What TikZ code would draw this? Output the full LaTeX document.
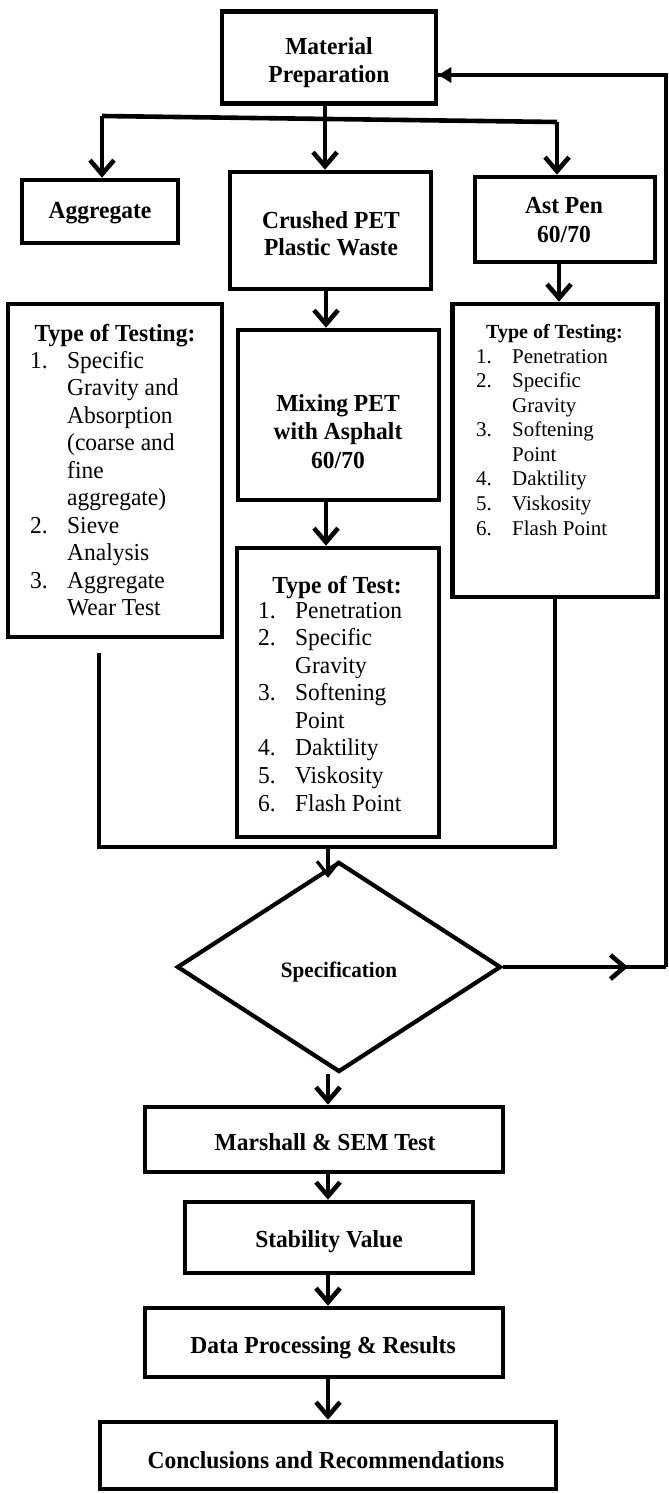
\documentclass[tikz,border=0pt]{standalone}
\usepackage{fontspec}
\setmainfont{Liberation Serif}
\newfontfamily\hdfont{Liberation Serif}[FakeStretch=0.96]
\newfontfamily\lifont{Liberation Serif}[FakeStretch=0.965]
\usetikzlibrary{arrows.meta,shapes.geometric}
\tikzset{
  box/.style={draw, line width=4.6pt, rectangle, inner sep=0pt},
  hd/.style={font=\hdfont\bfseries\fontsize{24.5}{28}\selectfont, inner sep=0pt, anchor=base},
  hds/.style={font=\bfseries\fontsize{20}{25}\selectfont, inner sep=0pt, anchor=base},
  li/.style={font=\lifont\fontsize{24.3}{28}\selectfont, inner sep=0pt, anchor=base west},
  lis/.style={font=\fontsize{21}{25}\selectfont, inner sep=0pt, anchor=base west},
  conn/.style={line width=4.6pt},
  barb/.style={line width=4.6pt, -{Straight Barb[length=14pt,width=24pt]}},
  thinbarb/.style={line width=3.2pt, -{Straight Barb[length=14pt,width=22pt]}},
  fb/.style={line width=3.6pt},
  fbarrow/.style={line width=3.6pt, -{Triangle[length=13pt,width=15pt]}}
}
\begin{document}
\begin{tikzpicture}[x=1pt,y=-1pt]
\fill[white] (0,0) rectangle (669,1494);
\useasboundingbox (0,0) rectangle (669,1494);

% ---------- boxes ----------
\node[box, minimum width=214pt, minimum height=92pt] (mat) at (329,57.5) {};
\node[box, minimum width=156pt, minimum height=63pt] (agg) at (100,211.5) {};
\node[box, minimum width=201pt, minimum height=117pt] (pet) at (330.5,230.5) {};
\node[box, minimum width=180pt, minimum height=85pt] (ast) at (565,219.5) {};
\node[box, minimum width=214pt, minimum height=333pt] (ltest) at (115,470.5) {};
\node[box, minimum width=201pt, minimum height=170pt] (mix) at (338.5,415) {};
\node[box, minimum width=202pt, minimum height=289pt] (mtest) at (338,692.5) {};
\node[box, minimum width=205pt, minimum height=293pt] (rtest) at (555,450.5) {};
\node[draw, line width=4.2pt, diamond, inner sep=0pt, minimum width=324pt, minimum height=210pt] (spec) at (339,967) {};
\node[box, minimum width=358pt, minimum height=65pt] (marsh) at (324,1139.5) {};
\node[box, minimum width=288pt, minimum height=71pt] (stab) at (329,1237.5) {};
\node[box, minimum width=358pt, minimum height=69pt] (data) at (324,1342.5) {};
\node[box, minimum width=456pt, minimum height=67pt] (conc) at (328,1455.5) {};

% ---------- box texts ----------
\node[hd] (matA) at (329,54.5) {Material};
\node[hd] (matB) at (329,82) {Preparation};
\node[hd] (aggA) at (100,218) {Aggregate};
\node[hd] (petA) at (331,228) {Crushed PET};
\node[hd] (petB) at (331,255) {Plastic Waste};
\node[hd] (astA) at (564,213) {Ast Pen};
\node[hd] (astB) at (564,242) {60/70};
\node[hd] (mixA) at (338,411) {Mixing PET};
\node[hd] (mixB) at (338,439) {with Asphalt};
\node[hd] (mixC) at (338,468) {60/70};
\node[font=\hdfont\bfseries\fontsize{22}{25}\selectfont, inner sep=0pt, anchor=base] (specT) at (339,977) {Specification};
\node[hd] (marshT) at (325,1150) {Marshall \& SEM Test};
\node[hd] (stabT) at (329,1247) {Stability Value};
\node[hd] (dataT) at (323,1353) {Data Processing \& Results};
\node[hd] (concT) at (326,1468) {Conclusions and Recommendations};

% left list
\node[hd] (lt0) at (115,341) {Type of Testing:};
\node[li] (lt1n) at (30,368) {1.};
\node[li] (lt1) at (67,368) {Specific};
\node[li] (lt1b) at (67,395.5) {Gravity and};
\node[li] (lt1c) at (67,423) {Absorption};
\node[li] (lt1d) at (67,450.5) {(coarse and};
\node[li] (lt1e) at (67,478) {fine};
\node[li] (lt1f) at (67,505.5) {aggregate)};
\node[li] (lt2n) at (30,533) {2.};
\node[li] (lt2) at (67,533) {Sieve};
\node[li] (lt2b) at (67,560.5) {Analysis};
\node[li] (lt3n) at (30,588) {3.};
\node[li] (lt3) at (67,588) {Aggregate};
\node[li] (lt3b) at (67,615.5) {Wear Test};

% middle list
\node[hd] (mt0) at (337,593) {Type of Test:};
\node[li] (mt1n) at (258,618) {1.};
\node[li] (mt1) at (295,618) {Penetration};
\node[li] (mt2n) at (258,645.6) {2.};
\node[li] (mt2) at (295,645.6) {Specific};
\node[li] (mt2b) at (295,673.1) {Gravity};
\node[li] (mt3n) at (258,700.7) {3.};
\node[li] (mt3) at (295,700.7) {Softening};
\node[li] (mt3b) at (295,728.3) {Point};
\node[li] (mt4n) at (258,755.9) {4.};
\node[li] (mt4) at (295,755.9) {Daktility};
\node[li] (mt5n) at (258,783.4) {5.};
\node[li] (mt5) at (295,783.4) {Viskosity};
\node[li] (mt6n) at (258,811) {6.};
\node[li] (mt6) at (295,811) {Flash Point};

% right list
\node[hds] (rt0) at (554.5,338) {Type of Testing:};
\node[lis] (rt1n) at (476,363) {1.};
\node[lis] (rt1) at (512,363) {Penetration};
\node[lis] (rt2n) at (476,387.6) {2.};
\node[lis] (rt2) at (512,387.6) {Specific};
\node[lis] (rt2b) at (512,412.1) {Gravity};
\node[lis] (rt3n) at (476,436.7) {3.};
\node[lis] (rt3) at (512,436.7) {Softening};
\node[lis] (rt3b) at (512,461.3) {Point};
\node[lis] (rt4n) at (476,485.9) {4.};
\node[lis] (rt4) at (512,485.9) {Daktility};
\node[lis] (rt5n) at (476,510.4) {5.};
\node[lis] (rt5) at (512,510.4) {Viskosity};
\node[lis] (rt6n) at (476,535) {6.};
\node[lis] (rt6) at (512,535) {Flash Point};

% ---------- connectors ----------
\coordinate (bl) at (102,116);
\coordinate (bm) at (325,119);
\coordinate (br) at (557,122);
\draw[conn] (mat.south -| bm) -- (bm);
\draw[conn] (bl) -- (br);
\draw[barb] (bl) -- (bl |- agg.north);
\draw[barb] (bm) -- (bm |- pet.north);
\draw[barb] (br) -- (br |- ast.north);

\coordinate (ac) at (559,0);
\draw[barb] (ast.south -| ac) -- (rtest.north -| ac);
\coordinate (pc) at (326,0);
\draw[barb] (pet.south -| pc) -- (mix.north -| pc);
\draw[barb] (mix.south -| pc) -- (mtest.north -| pc);

\coordinate (ua) at (99,653);
\coordinate (ub) at (99,847);
\coordinate (uc) at (rtest.south |- ub);
\draw[conn, line join=miter] (ua) -- (ub) -- (uc) -- (rtest.south);
\coordinate (dn) at (328,847);
\draw[thinbarb, shorten >=-18pt] (dn) -- (dn |- spec.north);

% feedback loop
\coordinate (fr) at (666,967);
\coordinate (fm) at (628,967);
\coordinate (ft) at (666,75);
\draw[fb] (spec.east) -- (fr);
\draw[barb] (spec.east) -- (fm);
\draw[fb, line join=miter] (fr) -- (ft) -- (ft -| mat.east);
\draw[fbarrow] (ft) -- (ft -| mat.east);

% lower column
\coordinate (col) at (328,0);
\draw[barb] (spec.south -| col) -- (marsh.north -| col);
\draw[barb] (marsh.south -| col) -- (stab.north -| col);
\draw[barb] (stab.south -| col) -- (data.north -| col);
\draw[barb] (data.south -| col) -- (conc.north -| col);
\end{tikzpicture}
\end{document}
